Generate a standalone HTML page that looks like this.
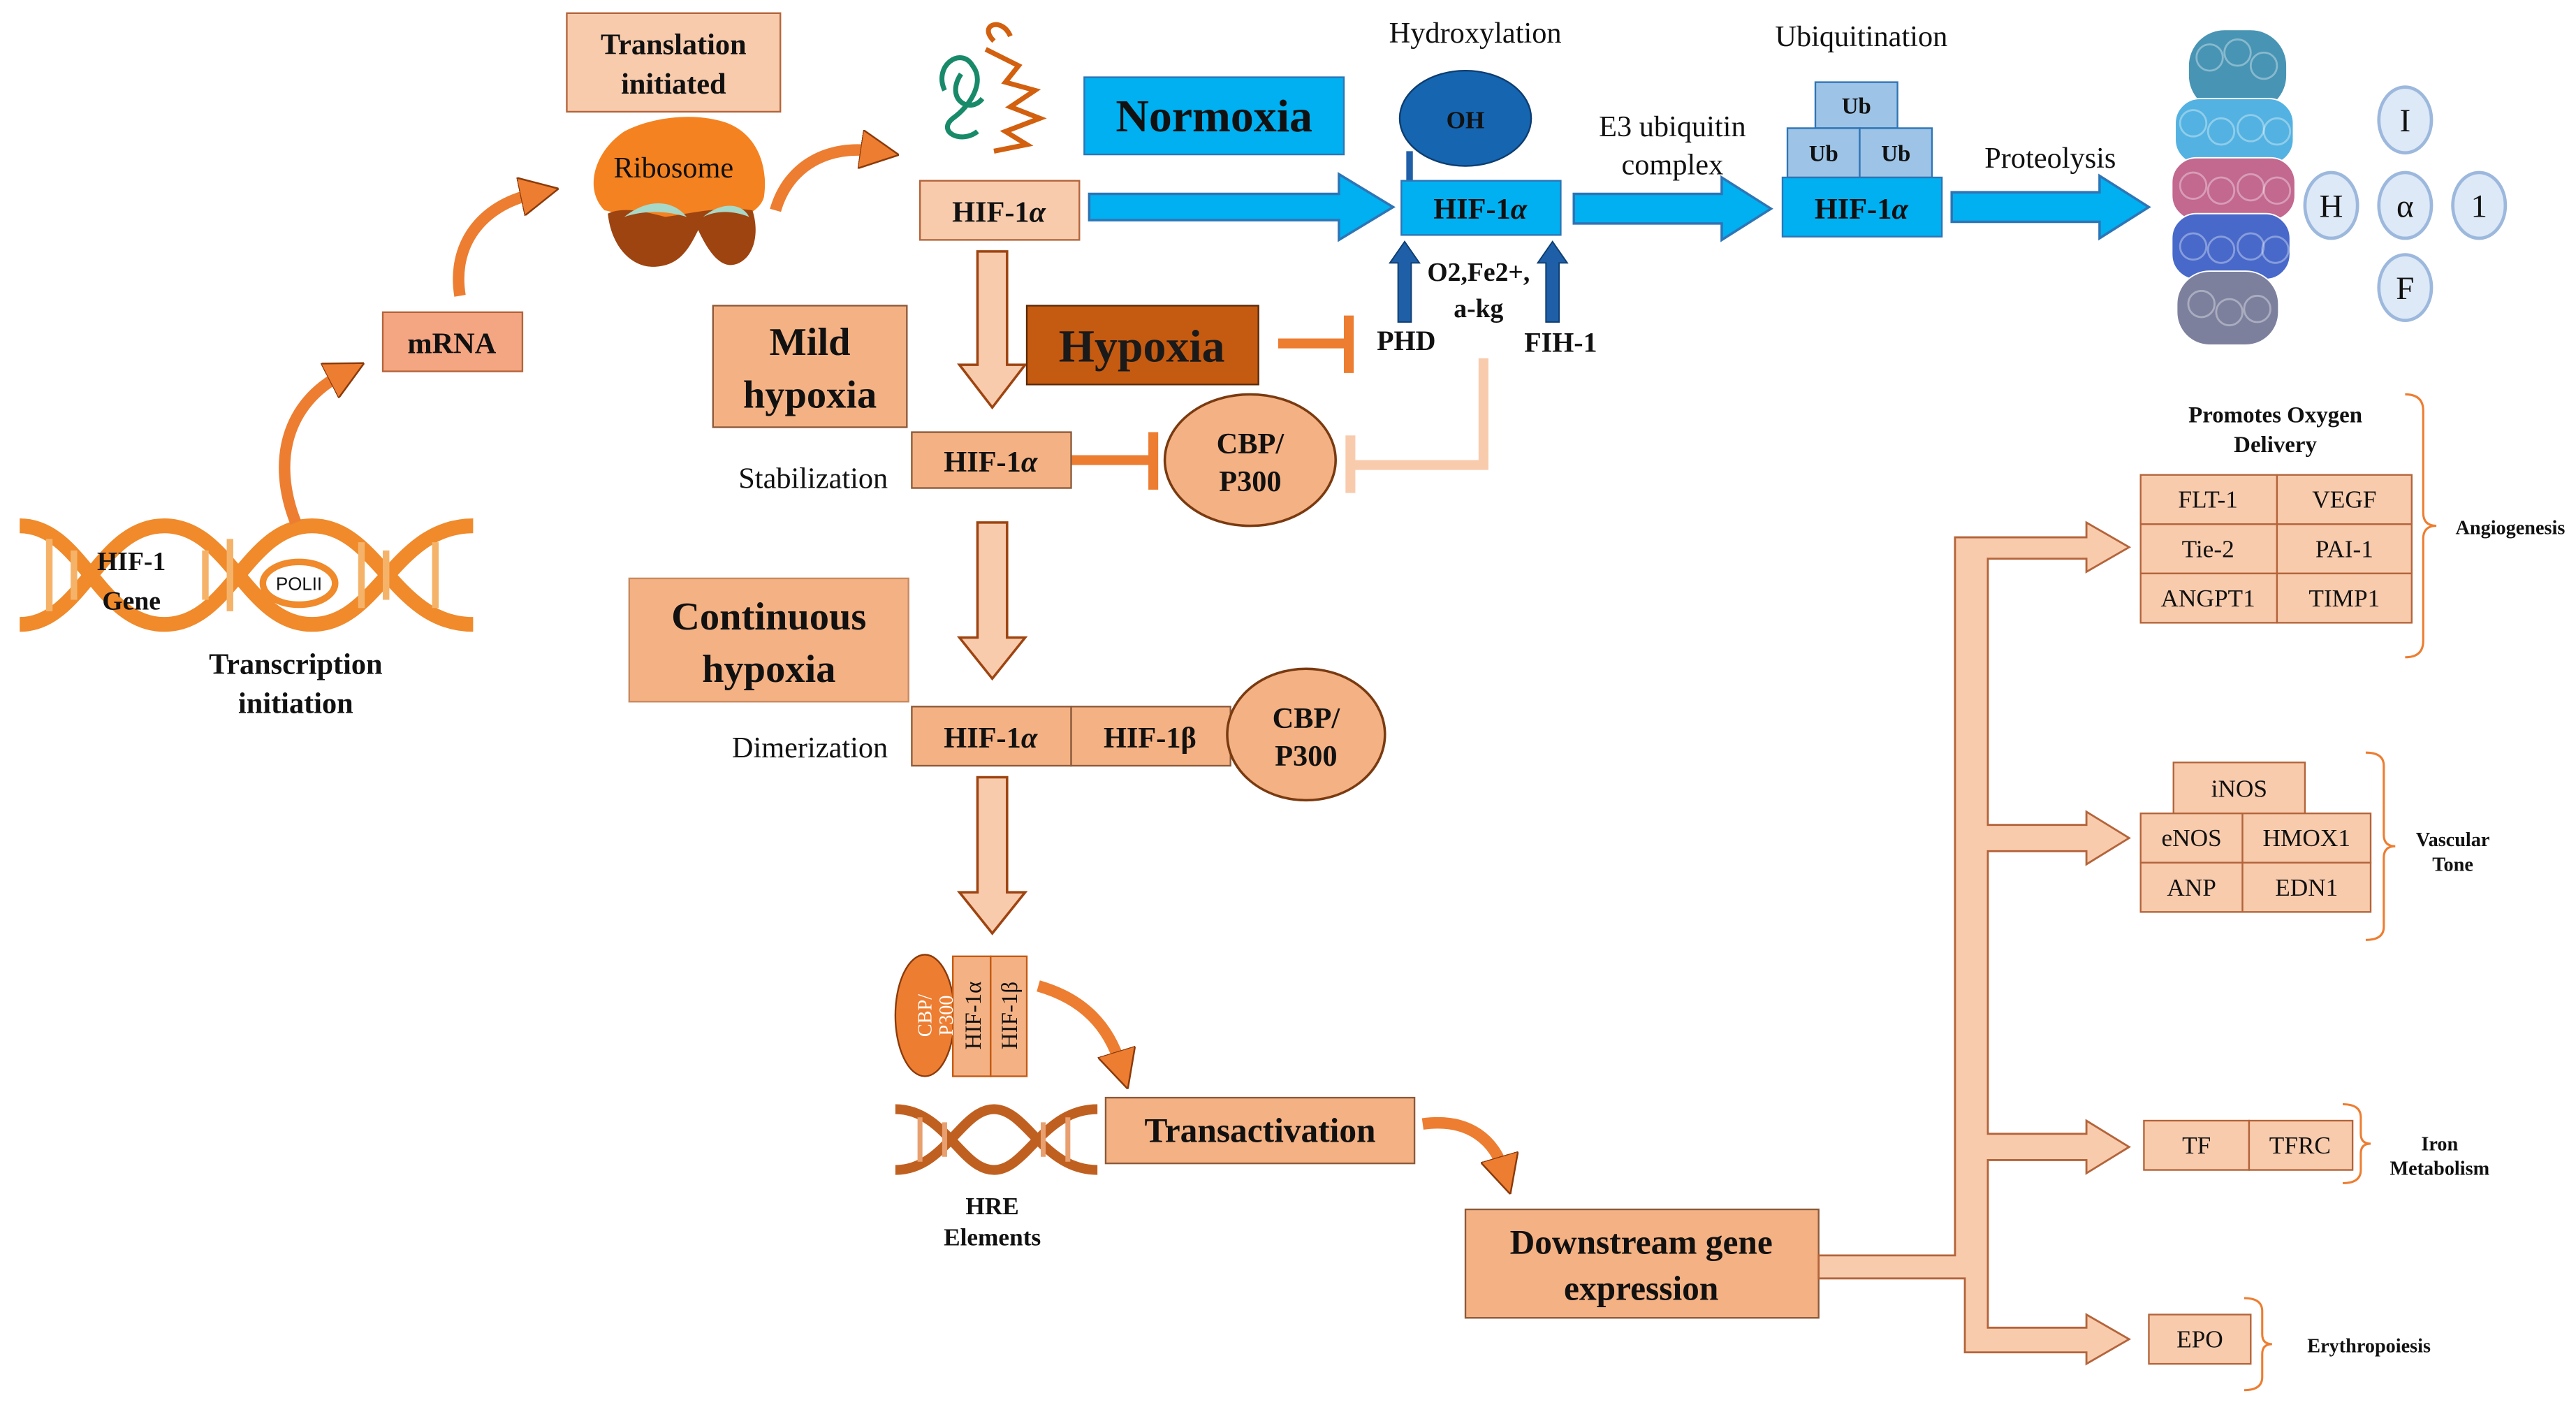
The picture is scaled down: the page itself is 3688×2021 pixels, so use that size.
<!DOCTYPE html>
<html><head><meta charset="utf-8"><style>html,body{margin:0;padding:0;background:#fff}svg{display:block}</style></head>
<body>
<svg width="3688" height="2021" viewBox="0 0 1568 859.3" preserveAspectRatio="none" xmlns="http://www.w3.org/2000/svg" font-family="Liberation Serif, serif">
<defs>
<marker id="oa" markerWidth="3.4" markerHeight="3.4" refX="1.2" refY="1.7" orient="auto" markerUnits="strokeWidth"><path d="M0,0L3.4,1.7L0,3.4Z" fill="#ed7d31" stroke="#8b3a0a" stroke-width="0.15"/></marker>
</defs>
<rect width="1568" height="860" fill="#fff"/>
<g font-weight="bold" text-anchor="middle" fill="#111">
<g stroke="#f08a2a" stroke-width="9" fill="none">
<path d="M12,320 C50,320 60,380 100,380 C140,380 150,320 190,320 C230,320 240,380 288,380"/>
<path d="M12,380 C50,380 60,320 100,320 C140,320 150,380 190,380 C230,380 240,320 288,320"/>
</g>
<g stroke="#f5b36a" stroke-width="4">
<line x1="30" y1="328" x2="30" y2="372"/><line x1="45" y1="335" x2="45" y2="365"/><line x1="125" y1="335" x2="125" y2="365"/><line x1="140" y1="328" x2="140" y2="372"/><line x1="220" y1="330" x2="220" y2="370"/><line x1="235" y1="335" x2="235" y2="365"/><line x1="265" y1="330" x2="265" y2="370"/>
</g>
<ellipse cx="182" cy="355" rx="22" ry="13" fill="#fff" stroke="#f08a2a" stroke-width="4"/>
<text x="182" y="359" font-size="11" font-weight="normal" font-family="Liberation Sans, sans-serif">POLII</text>
<text x="80" y="347" font-size="16">HIF-1</text><text x="80" y="371" font-size="16">Gene</text>
<text x="180" y="410" font-size="18">Transcription</text><text x="180" y="434" font-size="18">initiation</text>
<g stroke="#ed7d31" stroke-width="7" fill="none">
<path d="M180,318 C165,280 175,245 208,228" marker-end="url(#oa)"/>
<path d="M280,180 C275,150 292,125 325,118" marker-end="url(#oa)"/>
<path d="M472,128 C480,100 505,88 532,92" marker-end="url(#oa)"/>
<path d="M632,600 C660,608 675,625 682,648" marker-end="url(#oa)"/>
<path d="M866,684 C895,680 910,695 915,712" marker-end="url(#oa)"/>
</g>
<rect x="233" y="190" width="85" height="36" fill="#f4a582" stroke="#b4643a"/>
<text x="275" y="215" font-size="18">mRNA</text>
<rect x="345" y="8" width="130" height="60" fill="#f8cbad" stroke="#b4643a"/>
<text x="410" y="33" font-size="18">Translation</text><text x="410" y="57" font-size="18">initiated</text>
<path d="M368,128 C378,130 392,136 404,138 L440,138 C450,132 462,130 465,120 C468,100 460,80 440,74 C420,68 395,72 380,80 C362,92 355,115 368,128Z" fill="#f58220"/>
<path d="M370,130 C372,150 385,165 402,162 C415,160 420,150 425,140 C432,155 440,165 450,160 C460,155 462,140 458,128 C440,125 420,130 405,132 C390,128 378,126 370,130Z" fill="#9e4410"/>
<path d="M380,132 C395,120 410,122 418,132 C405,128 392,128 380,132Z" fill="#a8d8c8"/>
<path d="M428,132 C440,122 452,124 456,132 C446,128 436,128 428,132Z" fill="#a8d8c8"/>
<text x="410" y="108" font-size="18" font-weight="normal">Ribosome</text>
<g fill="none" stroke-width="3">
<path d="M575,55 C568,40 585,28 592,40 C600,50 590,65 580,72 C570,80 585,88 595,80 M585,45 C575,60 590,70 598,60" stroke="#188a6a"/>
<path d="M600,30 L620,40 L612,50 L630,55 L615,65 L633,72 L612,80 L625,88 L605,92 M605,25 C595,15 610,10 615,22" stroke="#d2600f"/>
</g>
<rect x="560" y="110" width="97" height="36" fill="#f8cbad" stroke="#b4643a"/>
<text x="608" y="135" font-size="18">HIF-1<tspan font-style="italic">α</tspan></text>
<rect x="660" y="47" width="158" height="47" fill="#00b0f0" stroke="#2e75b6"/>
<text x="739" y="80" font-size="28">Normoxia</text>
<g fill="#00b0f0" stroke="#2e75b6" stroke-width="1.5">
<path d="M663,118 H815 V106 L848,126 L815,146 V134 H663Z"/>
<path d="M958,118 H1048 V108 L1078,127 L1048,146 V136 H958Z"/>
<path d="M1188,117 H1278 V107 L1308,126 L1278,145 V135 H1188Z"/>
</g>
<text x="898" y="26" font-size="18" font-weight="normal">Hydroxylation</text>
<line x1="858" y1="92" x2="858" y2="110" stroke="#1f5fa8" stroke-width="4"/>
<ellipse cx="892" cy="72" rx="40" ry="29" fill="#1565b0" stroke="#0d3d70"/>
<text x="892" y="78" font-size="15">OH</text>
<rect x="853" y="110" width="97" height="33" fill="#00b0f0" stroke="#2e75b6"/>
<text x="901" y="133" font-size="18">HIF-1<tspan font-style="italic">α</tspan></text>
<g fill="#1f5fa8" stroke="#0d3d70" stroke-width="0.8">
<path d="M851,196 V160 H846 L855,147 L864,160 H859 V196Z"/>
<path d="M941,196 V160 H936 L945,147 L954,160 H949 V196Z"/>
</g>
<text x="900" y="171" font-size="16">O2,Fe2+,</text><text x="900" y="193" font-size="16">a-kg</text>
<text x="856" y="213" font-size="17">PHD</text><text x="950" y="214" font-size="17">FIH-1</text>
<text x="1018" y="83" font-size="18" font-weight="normal">E3 ubiquitin</text><text x="1018" y="106" font-size="18" font-weight="normal">complex</text>
<text x="1133" y="28" font-size="18" font-weight="normal">Ubiquitination</text>
<g fill="#9dc3e6" stroke="#2e75b6">
<rect x="1105" y="50" width="50" height="28"/><rect x="1088" y="78" width="44" height="30"/><rect x="1132" y="78" width="44" height="30"/>
</g>
<text x="1130" y="69" font-size="14">Ub</text><text x="1110" y="98" font-size="14">Ub</text><text x="1154" y="98" font-size="14">Ub</text>
<rect x="1085" y="108" width="97" height="36" fill="#00b0f0" stroke="#2e75b6"/>
<text x="1133" y="133" font-size="18">HIF-1<tspan font-style="italic">α</tspan></text>
<text x="1248" y="102" font-size="18" font-weight="normal">Proteolysis</text>
<g stroke="#fff" stroke-width="0.8" opacity="0.95">
<rect x="1332" y="18" width="60" height="50" rx="22" fill="#3f8fb0"/>
<rect x="1324" y="60" width="72" height="40" rx="15" fill="#4aaee0"/>
<rect x="1322" y="96" width="75" height="38" rx="15" fill="#c0608a"/>
<rect x="1322" y="130" width="72" height="40" rx="15" fill="#3f62c8"/>
<rect x="1325" y="165" width="62" height="45" rx="20" fill="#777a98"/>
</g>
<g fill="none" stroke="#ffffff" stroke-opacity="0.35" stroke-width="1.2">
<circle cx="1345" cy="35" r="8"/><circle cx="1362" cy="32" r="8"/><circle cx="1378" cy="40" r="8"/>
<circle cx="1335" cy="75" r="8"/><circle cx="1352" cy="80" r="8"/><circle cx="1370" cy="78" r="8"/><circle cx="1386" cy="80" r="8"/>
<circle cx="1335" cy="113" r="8"/><circle cx="1352" cy="116" r="8"/><circle cx="1370" cy="114" r="8"/><circle cx="1386" cy="116" r="8"/>
<circle cx="1335" cy="150" r="8"/><circle cx="1352" cy="152" r="8"/><circle cx="1370" cy="150" r="8"/><circle cx="1385" cy="152" r="8"/>
<circle cx="1340" cy="185" r="8"/><circle cx="1357" cy="190" r="8"/><circle cx="1374" cy="188" r="8"/>
</g>
<g fill="#dde9f7" stroke="#9db8dd" stroke-width="2">
<ellipse cx="1464" cy="73" rx="16" ry="20"/><ellipse cx="1419" cy="125" rx="16" ry="20"/><ellipse cx="1464" cy="125" rx="16" ry="20"/><ellipse cx="1509" cy="125" rx="16" ry="20"/><ellipse cx="1464" cy="175" rx="16" ry="20"/>
</g>
<g font-weight="normal" font-size="20">
<text x="1464" y="80">I</text><text x="1419" y="132">H</text><text x="1464" y="132">α</text><text x="1509" y="132">1</text><text x="1464" y="182">F</text>
</g>
<g fill="#f8cbad" stroke="#9e4410" stroke-width="1.5">
<path d="M595,153 H613 V222 H624 L604,248 L584,222 H595Z"/>
<path d="M595,318 H613 V388 H624 L604,413 L584,388 H595Z"/>
<path d="M595,473 H613 V543 H624 L604,568 L584,543 H595Z"/>
</g>
<rect x="434" y="186" width="118" height="74" fill="#f4b183" stroke="#8b5a3a"/>
<text x="493" y="216" font-size="24">Mild</text><text x="493" y="248" font-size="24">hypoxia</text>
<rect x="625" y="186" width="141" height="48" fill="#c55a11" stroke="#5a2a0a"/>
<text x="695" y="220" font-size="28" fill="#1a1a1a">Hypoxia</text>
<g stroke="#ed7d31" stroke-width="6"><line x1="778" y1="209" x2="820" y2="209"/><line x1="821" y1="192" x2="821" y2="227"/>
<line x1="652" y1="280" x2="700" y2="280"/><line x1="702" y1="263" x2="702" y2="298"/></g>
<path d="M903,218 V283 H823" fill="none" stroke="#f8cbad" stroke-width="6"/>
<line x1="822" y1="265" x2="822" y2="300" stroke="#f8cbad" stroke-width="6"/>
<rect x="555" y="263" width="97" height="34" fill="#f4b183" stroke="#8b5a3a"/>
<text x="603" y="287" font-size="18">HIF-1<tspan font-style="italic">α</tspan></text>
<text x="495" y="297" font-size="18" font-weight="normal">Stabilization</text>
<ellipse cx="761" cy="280" rx="52" ry="40" fill="#f4b183" stroke="#7a3a10" stroke-width="1.5"/>
<text x="761" y="276" font-size="18">CBP/</text><text x="761" y="299" font-size="18">P300</text>
<rect x="383" y="352" width="170" height="75" fill="#f4b183" stroke="#c88a60"/>
<text x="468" y="383" font-size="24">Continuous</text><text x="468" y="415" font-size="24">hypoxia</text>
<text x="493" y="461" font-size="18" font-weight="normal">Dimerization</text>
<rect x="555" y="430" width="97" height="36" fill="#f4b183" stroke="#8b5a3a"/>
<rect x="652" y="430" width="97" height="36" fill="#f4b183" stroke="#8b5a3a"/>
<text x="603" y="455" font-size="18">HIF-1<tspan font-style="italic">α</tspan></text><text x="700" y="455" font-size="18">HIF-1β</text>
<ellipse cx="795" cy="447" rx="48" ry="40" fill="#f4b183" stroke="#7a3a10" stroke-width="1.5"/>
<text x="795" y="443" font-size="18">CBP/</text><text x="795" y="466" font-size="18">P300</text>
<ellipse cx="563" cy="618" rx="18" ry="37" fill="#ed7d31" stroke="#8b3a0a"/>
<rect x="580" y="582" width="23" height="73" fill="#f4b183" stroke="#c55a11"/><rect x="603" y="582" width="22" height="73" fill="#f4b183" stroke="#c55a11"/>
<g font-weight="normal" font-size="12"><text transform="translate(567,618) rotate(-90)" fill="#fff">CBP/</text><text transform="translate(580,618) rotate(-90)" fill="#fff">P300</text>
<text transform="translate(597,618) rotate(-90)" font-size="14">HIF-1α</text><text transform="translate(619,618) rotate(-90)" font-size="14">HIF-1β</text></g>
<g stroke="#c06020" stroke-width="6" fill="none">
<path d="M545,675 C575,675 585,712 605,712 C625,712 635,675 668,675"/>
<path d="M545,712 C575,712 585,675 605,675 C625,675 635,712 668,712"/>
</g>
<g stroke="#e8a070" stroke-width="3"><line x1="560" y1="680" x2="560" y2="707"/><line x1="575" y1="683" x2="575" y2="704"/><line x1="635" y1="683" x2="635" y2="704"/><line x1="650" y1="680" x2="650" y2="707"/></g>
<text x="604" y="739" font-size="15">HRE</text><text x="604" y="758" font-size="15">Elements</text>
<rect x="673" y="668" width="188" height="40" fill="#f4b183" stroke="#8b5a3a"/>
<text x="767" y="695" font-size="21">Transactivation</text>
<rect x="892" y="736" width="215" height="66" fill="#f4b183" stroke="#8b5a3a"/>
<text x="999" y="763" font-size="21">Downstream gene</text><text x="999" y="791" font-size="21">expression</text>
<g fill="#f8cbad" stroke="#b4643a" stroke-width="1.2">
<path d="M1107,764 H1190 V327 H1270 V318 L1296,333 L1270,348 V340 H1210 V502 H1270 V494 L1296,510 L1270,526 V518 H1210 V690 H1270 V682 L1296,698 L1270,714 V706 H1210 V808 H1270 V800 L1296,815 L1270,830 V823 H1196 V778 H1107Z"/>
</g>
<g fill="#f8cbad" stroke="#b4643a">
<rect x="1303" y="289" width="83" height="30"/><rect x="1386" y="289" width="82" height="30"/>
<rect x="1303" y="319" width="83" height="30"/><rect x="1386" y="319" width="82" height="30"/>
<rect x="1303" y="349" width="83" height="30"/><rect x="1386" y="349" width="82" height="30"/>
<rect x="1323" y="464" width="80" height="31"/>
<rect x="1303" y="495" width="62" height="30"/><rect x="1365" y="495" width="78" height="30"/>
<rect x="1303" y="525" width="62" height="30"/><rect x="1365" y="525" width="78" height="30"/>
<rect x="1305" y="682" width="64" height="30"/><rect x="1369" y="682" width="63" height="30"/>
<rect x="1308" y="800" width="62" height="30"/>
</g>
<g font-weight="normal" font-size="15">
<text x="1344" y="309">FLT-1</text><text x="1427" y="309">VEGF</text>
<text x="1344" y="339">Tie-2</text><text x="1427" y="339">PAI-1</text>
<text x="1344" y="369">ANGPT1</text><text x="1427" y="369">TIMP1</text>
<text x="1363" y="485">iNOS</text>
<text x="1334" y="515">eNOS</text><text x="1404" y="515">HMOX1</text>
<text x="1334" y="545">ANP</text><text x="1404" y="545">EDN1</text>
<text x="1337" y="702">TF</text><text x="1400" y="702">TFRC</text>
<text x="1339" y="820">EPO</text>
</g>
<text x="1385" y="257" font-size="14">Promotes Oxygen</text><text x="1385" y="275" font-size="14">Delivery</text>
<g fill="none" stroke="#ed7d31" stroke-width="1.3">
<path d="M1464,240 Q1475,240 1475,250 V312 Q1475,320 1483,320 Q1475,320 1475,328 V390 Q1475,400 1464,400"/>
<path d="M1440,458 Q1451,458 1451,466 V508 Q1451,515 1458,515 Q1451,515 1451,522 V564 Q1451,572 1440,572"/>
<path d="M1426,672 Q1437,672 1437,680 V690 Q1437,696 1443,696 Q1437,696 1437,702 V712 Q1437,720 1426,720"/>
<path d="M1366,790 Q1377,790 1377,798 V812 Q1377,818 1383,818 Q1377,818 1377,824 V838 Q1377,846 1366,846"/>
</g>
<g font-size="12">
<text x="1528" y="325">Angiogenesis</text>
<text x="1493" y="515">Vascular</text><text x="1493" y="530">Tone</text>
<text x="1485" y="700">Iron</text><text x="1485" y="715">Metabolism</text>
<text x="1442" y="823">Erythropoiesis</text>
</g>
</g>
</svg>
</body></html>
